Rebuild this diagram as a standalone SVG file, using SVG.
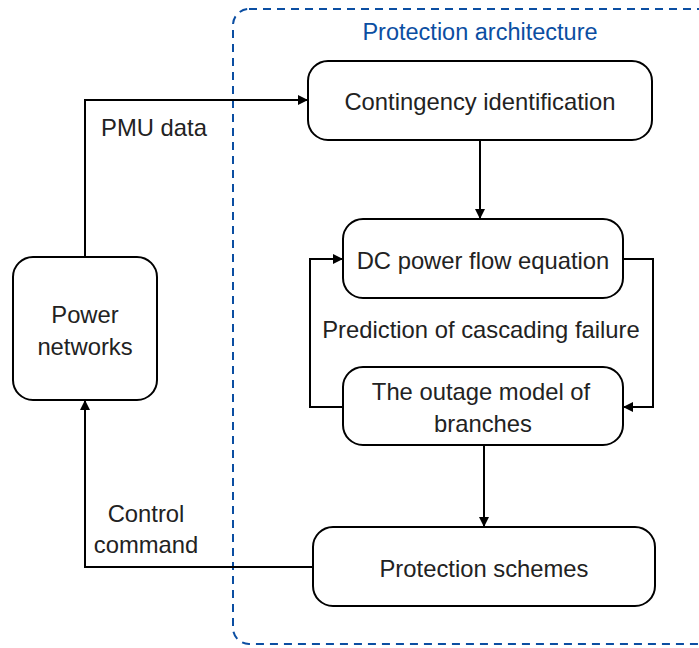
<svg xmlns="http://www.w3.org/2000/svg" width="699" height="648" viewBox="0 0 699 648">
  <style>
    .box { fill: #ffffff; stroke: #000000; stroke-width: 2; }
    .lbl { font-family: "Liberation Sans", Arial, sans-serif; font-size: 23.8px; fill: #222222; text-anchor: middle; }
    .edge { fill: none; stroke: #000000; stroke-width: 2; }
    .frame { fill: none; stroke: #0b4ea2; stroke-width: 2; stroke-dasharray: 8 6; }
    .title { font-family: "Liberation Sans", Arial, sans-serif; font-size: 23.5px; fill: #0b4ea2; text-anchor: middle; }
  </style>
  <defs>
    <marker id="arrow" viewBox="0 0 10 10" refX="10" refY="5" markerWidth="11" markerHeight="10" markerUnits="userSpaceOnUse" orient="auto">
      <path d="M0,0 L10,5 L0,10 Z" fill="#000000"/>
    </marker>
  </defs>

  <rect width="699" height="648" fill="#ffffff"/>

  <!-- protection architecture frame -->
  <g id="frame">
    <rect class="frame" x="233" y="9" width="490" height="635" rx="16"/>
    <text class="title" x="480" y="40">Protection architecture</text>
  </g>

  <!-- connectors -->
  <g id="connectors">
    <path class="edge" d="M85,257 V100 H308" marker-end="url(#arrow)"/>
    <path class="edge" d="M480,140 V219" marker-end="url(#arrow)"/>
    <path class="edge" d="M343,407 H310 V259 H343" marker-end="url(#arrow)"/>
    <path class="edge" d="M623,259 H653 V407 H623" marker-end="url(#arrow)"/>
    <path class="edge" d="M484,445 V527" marker-end="url(#arrow)"/>
    <path class="edge" d="M313,567 H85 V400" marker-end="url(#arrow)"/>
    <text class="lbl" x="154" y="136">PMU data</text>
    <text class="lbl" x="146" y="522">Control</text>
    <text class="lbl" x="146" y="553">command</text>
    <text class="lbl" x="481" y="338">Prediction of cascading failure</text>
  </g>

  <g id="power-networks">
    <rect class="box" x="13" y="257" width="144" height="143" rx="20"/>
    <text class="lbl" x="85" y="323">Power</text>
    <text class="lbl" x="85" y="355">networks</text>
  </g>

  <g id="contingency">
    <rect class="box" x="308" y="61" width="344" height="79" rx="20"/>
    <text class="lbl" x="480" y="110">Contingency identification</text>
  </g>

  <g id="dc-power-flow">
    <rect class="box" x="343" y="219" width="280" height="79" rx="20"/>
    <text class="lbl" x="483" y="269">DC power flow equation</text>
  </g>

  <g id="outage-model">
    <rect class="box" x="343" y="367" width="280" height="78" rx="20"/>
    <text class="lbl" x="481" y="400">The outage model of</text>
    <text class="lbl" x="483" y="432">branches</text>
  </g>

  <g id="protection-schemes">
    <rect class="box" x="313" y="527" width="342" height="79" rx="20"/>
    <text class="lbl" x="484" y="577">Protection schemes</text>
  </g>
</svg>
